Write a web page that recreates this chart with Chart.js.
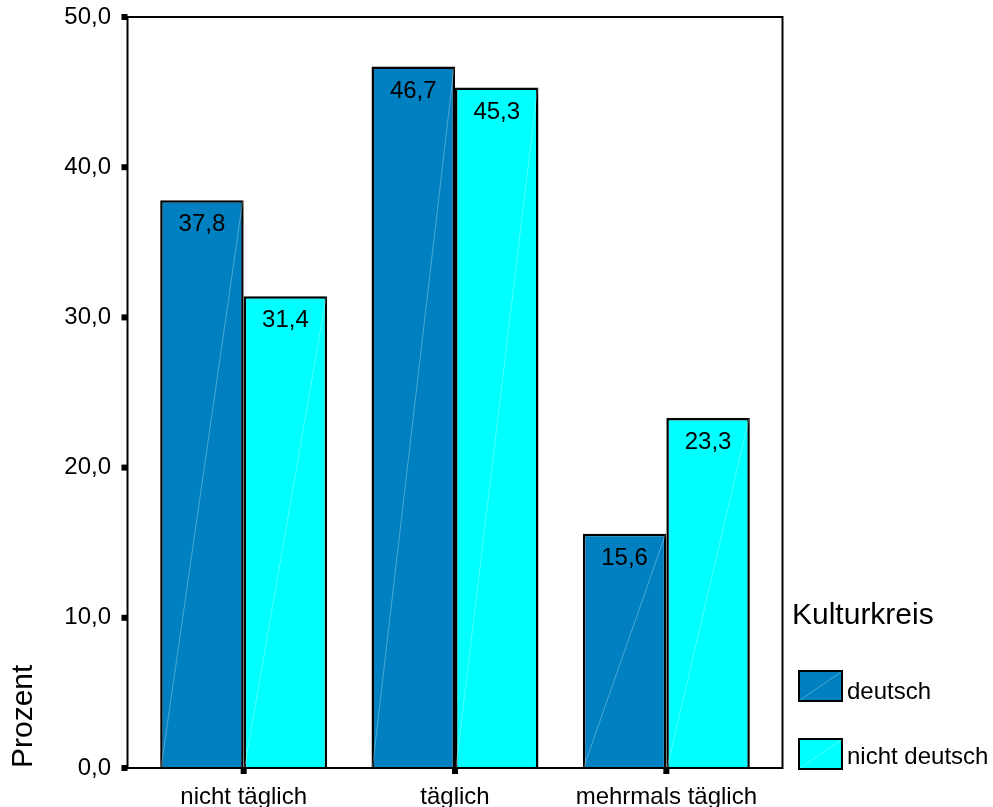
<!DOCTYPE html>
<html><head><meta charset="utf-8">
<script src="https://cdn.jsdelivr.net/npm/chart.js@4"></script>
<style>html,body{margin:0;padding:0;background:#fff;}canvas{display:block;}</style>
</head><body>
<canvas id="c" width="993" height="807"></canvas>
<script>
const categories = ['nicht täglich', 'täglich', 'mehrmals täglich'];
const seriesNames = ['deutsch', 'nicht deutsch'];
const deutsch = [37.8, 46.7, 15.6];
const nichtDeutsch = [31.4, 45.3, 23.3];
const yAxisTitle = 'Prozent';
const legendTitle = 'Kulturkreis';
const colors = ['#0080C0', '#00FFFF'];
const FONT = '"Liberation Sans", Arial, sans-serif';
const fmt = v => v.toFixed(1).replace('.', ',');

const decor = {
  id: 'decor',
  afterDatasetsDraw(chart) {
    const ctx = chart.ctx;
    chart.data.datasets.forEach((ds, di) => {
      const meta = chart.getDatasetMeta(di);
      meta.data.forEach((bar, i) => {
        const left = bar.x - bar.width / 2, right = bar.x + bar.width / 2;
        ctx.save();
        ctx.strokeStyle = 'rgba(255,255,255,0.3)';
        ctx.lineWidth = 1;
        ctx.beginPath();
        ctx.moveTo(left + 1, bar.base - 1);
        ctx.lineTo(right - 1, bar.y + 1);
        ctx.stroke();
        ctx.fillStyle = '#000';
        ctx.font = '24px ' + FONT;
        ctx.textAlign = 'center';
        ctx.textBaseline = 'alphabetic';
        ctx.fillText(fmt(ds.data[i]), bar.x, bar.y + 31);
        ctx.restore();
      });
    });
  },
  afterDraw(chart) {
    const ctx = chart.ctx;
    const ca = chart.chartArea;
    const ys = chart.scales.y, xs = chart.scales.x;
    const L = ca.left - 10.5, R = ca.right + 10.5;
    ctx.save();
    ctx.strokeStyle = '#000';
    ctx.lineWidth = 2;
    ctx.strokeRect(L, ca.top, R - L, ca.bottom - ca.top);
    ctx.fillStyle = '#000';
    ys.ticks.forEach(t => {
      const y = ys.getPixelForValue(t.value);
      ctx.fillRect(L - 6, y - 3, 6, 6);
    });
    categories.forEach((c, i) => {
      const x = xs.getPixelForValue(i);
      ctx.fillRect(x - 3, ca.bottom, 6, 6);
    });
    ctx.font = '30px ' + FONT;
    ctx.textAlign = 'left';
    ctx.textBaseline = 'alphabetic';
    ctx.fillText(legendTitle, 792, 624);
    const boxTops = [671, 739];
    const baselines = [699, 764];
    seriesNames.forEach((n, i) => {
      const bx = 799, by = boxTops[i], bw = 43, bh = 30;
      ctx.fillStyle = colors[i];
      ctx.fillRect(bx, by, bw, bh);
      ctx.strokeStyle = 'rgba(255,255,255,0.3)';
      ctx.lineWidth = 1;
      ctx.beginPath();
      ctx.moveTo(bx + 1, by + bh - 1);
      ctx.lineTo(bx + bw - 1, by + 1);
      ctx.stroke();
      ctx.strokeStyle = '#000';
      ctx.lineWidth = 2;
      ctx.strokeRect(bx, by, bw, bh);
      ctx.fillStyle = '#000';
      ctx.font = '24px ' + FONT;
      ctx.fillText(n, 847, baselines[i]);
    });
    ctx.restore();
  }
};

new Chart(document.getElementById('c'), {
  type: 'bar',
  data: {
    labels: categories,
    datasets: [
      { label: seriesNames[0], data: deutsch, backgroundColor: colors[0], borderColor: '#000', borderWidth: 2.5 },
      { label: seriesNames[1], data: nichtDeutsch, backgroundColor: colors[1], borderColor: '#000', borderWidth: 2.5 }
    ]
  },
  options: {
    responsive: false,
    animation: false,
    devicePixelRatio: 1,
    layout: { padding: { left: 0, right: 221, top: 17, bottom: 0 } },
    datasets: { bar: { barPercentage: 1, categoryPercentage: 0.79 } },
    plugins: { legend: { display: false }, tooltip: { enabled: false } },
    scales: {
      x: {
        grid: { display: false, drawTicks: false },
        border: { display: false },
        ticks: { color: '#000', font: { family: FONT, size: 24 }, padding: 15, maxRotation: 0, autoSkip: false },
        afterFit: s => { s.height = 39; s.paddingLeft = 0; s.paddingRight = 0; }
      },
      y: {
        min: 0, max: 50,
        grid: { display: false, drawTicks: false },
        border: { display: false },
        ticks: { stepSize: 10, color: '#000', font: { family: FONT, size: 24 }, padding: 27, callback: v => fmt(v) },
        title: { display: true, text: yAxisTitle, align: 'start', color: '#000', font: { family: FONT, size: 30 }, padding: { top: 6, bottom: 0 } },
        afterFit: s => { s.width = 138; s.paddingTop = 0; s.paddingBottom = 0; }
      }
    }
  },
  plugins: [decor]
});
</script>
</body></html>
